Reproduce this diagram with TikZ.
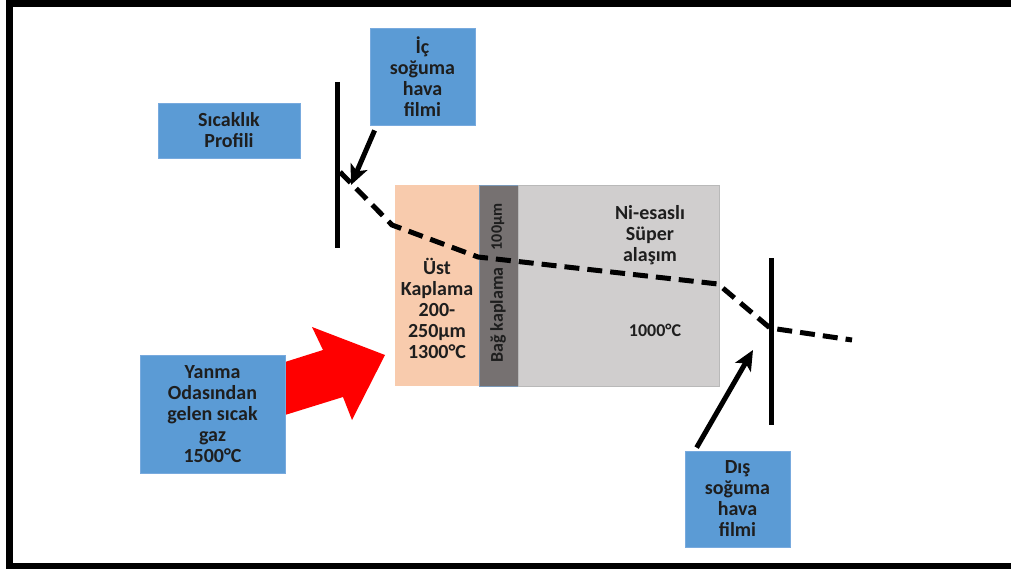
\documentclass[tikz,border=0pt]{standalone}
\usepackage{fontspec}
\setmainfont{Carlito}
\usepackage{tikz}
\usetikzlibrary{positioning,calc,arrows.meta}
\definecolor{boxblue}{RGB}{91,155,213}
\definecolor{boxedge}{RGB}{120,170,222}
\definecolor{txtdark}{RGB}{30,30,30}
\definecolor{topcoat}{RGB}{248,203,173}
\definecolor{bondcoat}{RGB}{118,113,113}
\definecolor{superalloy}{RGB}{208,206,206}
\definecolor{hotred}{RGB}{255,0,0}

\begin{document}
\begin{tikzpicture}[x=1pt,y=-1pt,
  lbl/.style={font=\bfseries\fontsize{20}{21}\selectfont,text=txtdark,align=center,inner sep=0pt},
  infobox/.style={lbl,draw=boxedge,fill=boxblue,line width=0.8pt},
  layer/.style={minimum height=201pt,inner sep=0pt,line width=0.6pt},
  profline/.style={line width=5pt,dash pattern=on 15pt off 8pt},
  wall/.style={line width=5pt},
  pointer/.style={line width=5pt,-{Stealth[length=20pt,width=18pt,inset=5pt]}}
]
  \useasboundingbox (0,0) rectangle (1011,569);
  \draw[line width=7pt] (1011,4) -- (9.5,4) -- (9.5,566) -- (1011,566);

  % hot gas arrow (behind the box)
  \fill[hotred] (285,362) -- (323,350) -- (312,327) -- (385,355)
    -- (352,420) -- (343,397) -- (285,415) -- cycle;

  % coating layers
  \node[layer,fill=topcoat,minimum width=84pt] (ust) at (437,285.5) {};
  \node[layer,fill=bondcoat,draw=boxedge!60!gray,minimum width=39pt] (bag) at (498.5,285.5) {};
  \node[layer,fill=superalloy,draw=gray!55,minimum width=201pt] (super) at (618.5,285.5) {};

  \node[lbl] (usttxt) at (437,308) {Üst\\ Kaplama\\ 200-\\ 250µm\\ 1300°C};
  \node[lbl,rotate=90,font=\bfseries\fontsize{18}{20}\selectfont] (bagtxt) at (498,315) {Bağ kaplama};
  \node[lbl,rotate=90,font=\bfseries\fontsize{16}{18}\selectfont] (bagthk) at (498,227) {100µm};
  \node[lbl] (supertxt) at (650,235) {Ni-esaslı\\ Süper\\ alaşım};
  \node[lbl,font=\bfseries\fontsize{18}{20}\selectfont] (supertmp) at (655,330) {1000°C};

  % info boxes
  \node[infobox,minimum width=142pt,minimum height=55pt] (prof) at (229,130.5) {Sıcaklık\\ Profili};
  \node[infobox,minimum width=105pt,minimum height=97pt] (ic) at (422.5,76.5) {İç\\ soğuma\\ hava\\ filmi};
  \node[infobox,minimum width=145pt,minimum height=118pt] (yanma) at (212.5,414) {Yanma\\ Odasından\\ gelen sıcak\\ gaz\\ 1500°C};
  \node[infobox,minimum width=105pt,minimum height=96pt] (dis) at (737.5,499) {Dış\\ soğuma\\ hava\\ filmi};

  % film walls
  \coordinate (wallAtop) at (337,82);
  \coordinate (wallAbot) at (337,248);
  \coordinate (wallBtop) at (771,258);
  \coordinate (wallBbot) at (771,425);
  \draw[wall] (wallAtop) -- (wallAbot);
  \draw[wall] (wallBtop) -- (wallBbot);

  % temperature profile
  \coordinate (p0) at (340,172);
  \coordinate (p1) at (392,225);
  \coordinate (p2) at (478,257);
  \coordinate (p3) at (718,284);
  \coordinate (p4) at (770,328);
  \coordinate (p5) at (852,340);
  \draw[profline] (p0) -- (p1) -- (p2) -- (p3) -- (p4) -- (p5);

  % film pointers
  \coordinate (icTip) at (351,185);
  \coordinate (disTip) at (753,350);
  \draw[pointer] ($(ic.south west)+(5,5)$) -- (icTip);
  \draw[pointer] ($(dis.north west)+(12,-3)$) -- (disTip);
\end{tikzpicture}
\end{document}
